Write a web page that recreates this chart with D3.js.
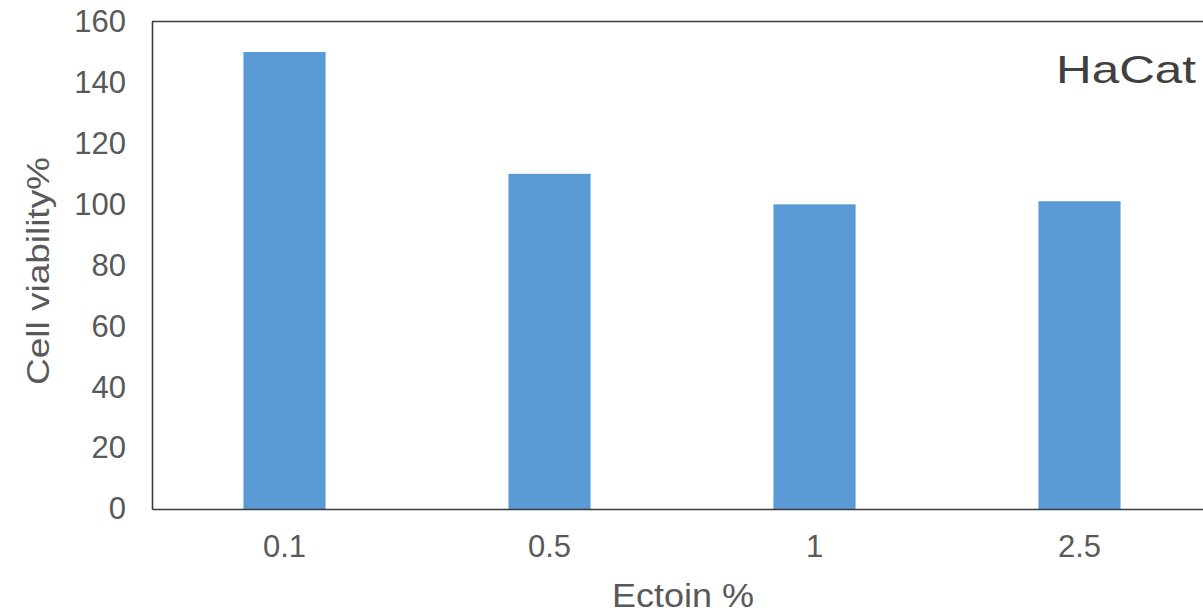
<!DOCTYPE html>
<html>
<head>
<meta charset="utf-8">
<script src="https://cdn.jsdelivr.net/npm/d3@7"></script>
<style>
  html, body { margin: 0; padding: 0; background: #fff; }
  svg text { font-family: "Liberation Sans", Arial, sans-serif; }
</style>
</head>
<body>
<svg id="chart" width="1203" height="613"></svg>
<script>
// Ectoin concentration groups and HaCat cell viability
const categories = ["0.1", "0.5", "1", "2.5"];
const viability = [150, 110, 100, 101];
const yTicks = [0, 20, 40, 60, 80, 100, 120, 140, 160];

const svg = d3.select("#chart");
const plotLeft = 152, plotRight = 1212, plotTop = 21.5, plotBottom = 509;

const x = d3.scaleBand()
  .domain(categories)
  .range([plotLeft, plotRight])
  .paddingInner(0.69)
  .paddingOuter(0.345);

const y = d3.scaleLinear()
  .domain([0, 160])
  .range([plotBottom, plotTop]);

// bars
svg.append("g")
  .selectAll("rect")
  .data(categories)
  .join("rect")
  .attr("x", d => x(d))
  .attr("y", (d, i) => y(viability[i]))
  .attr("width", x.bandwidth())
  .attr("height", (d, i) => y(0) - y(viability[i]))
  .attr("fill", "#5B9BD5");

// y axis (labels only, no tick marks)
const yAxis = svg.append("g")
  .attr("transform", `translate(${plotLeft},0)`)
  .call(d3.axisLeft(y).tickValues(yTicks).tickSize(0).tickPadding(26).tickFormat(d3.format("d")));
yAxis.select(".domain").attr("stroke", "#3a3a3a").attr("stroke-width", 1.6);
yAxis.selectAll("text")
  .attr("fill", "#595959")
  .style("font-size", "31px");

// x axis
const xAxis = svg.append("g")
  .attr("transform", `translate(0,${plotBottom})`)
  .call(d3.axisBottom(x).tickSize(0).tickPadding(26));
xAxis.select(".domain").attr("stroke", "#3a3a3a").attr("stroke-width", 1.6);
xAxis.selectAll("text")
  .attr("fill", "#595959")
  .style("font-size", "31px");

// top frame line
svg.append("line")
  .attr("x1", plotLeft).attr("x2", plotRight)
  .attr("y1", plotTop).attr("y2", plotTop)
  .attr("stroke", "#3a3a3a").attr("stroke-width", 1.6);

// axis titles
svg.append("text")
  .attr("x", 683)
  .attr("y", 607)
  .attr("text-anchor", "middle")
  .attr("fill", "#595959")
  .attr("textLength", 142)
  .attr("lengthAdjust", "spacingAndGlyphs")
  .style("font-size", "34px")
  .text("Ectoin %");

svg.append("text")
  .attr("transform", "translate(49,271) rotate(-90)")
  .attr("text-anchor", "middle")
  .attr("fill", "#595959")
  .attr("textLength", 228)
  .attr("lengthAdjust", "spacingAndGlyphs")
  .style("font-size", "31px")
  .text("Cell viability%");

// panel label
svg.append("text")
  .attr("x", 1056)
  .attr("y", 83)
  .attr("fill", "#404040")
  .attr("textLength", 140)
  .attr("lengthAdjust", "spacingAndGlyphs")
  .style("font-size", "39px")
  .text("HaCat");
</script>
</body>
</html>
